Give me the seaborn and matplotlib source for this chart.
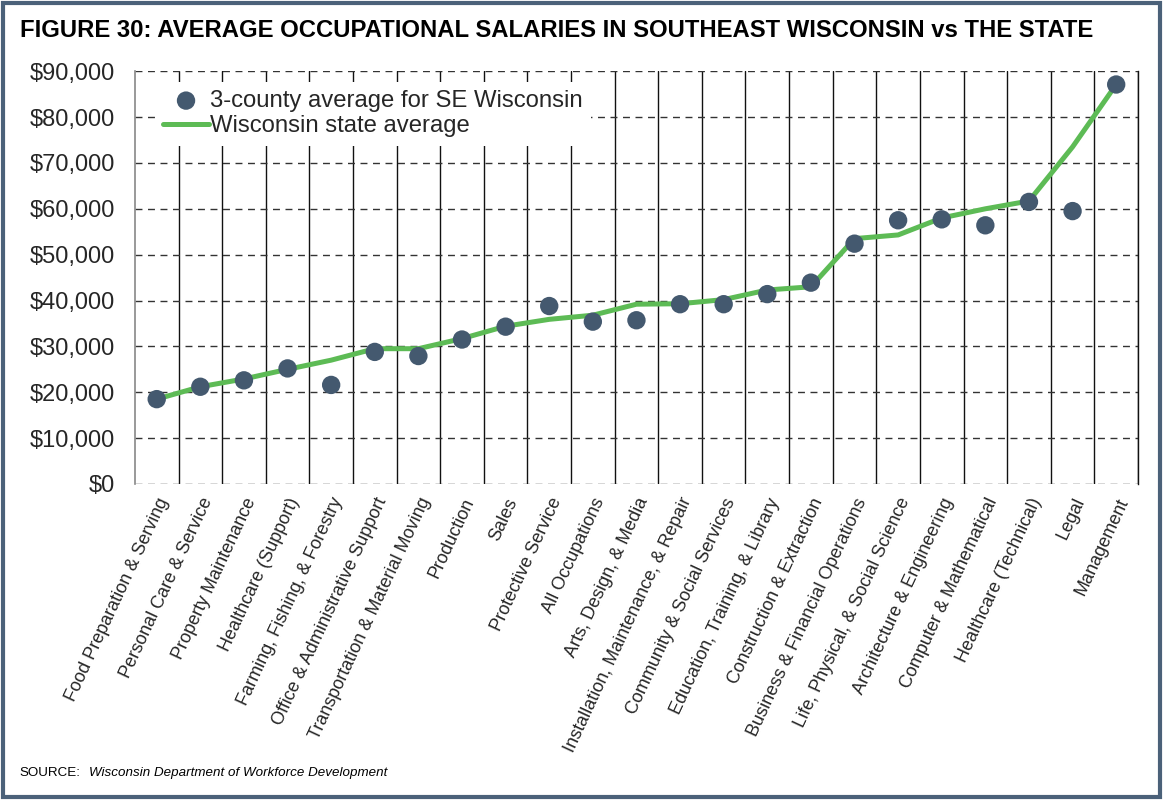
import matplotlib
matplotlib.use("Agg")
import matplotlib.pyplot as plt
from matplotlib.patches import Rectangle
from matplotlib.ticker import FuncFormatter, FixedLocator
import seaborn as sns
import pandas as pd
import numpy as np

occupations = [
    "Food Preparation & Serving", "Personal Care & Service", "Property Maintenance",
    "Healthcare (Support)", "Farming, Fishing, & Forestry", "Office & Administrative Support",
    "Transportation & Material Moving", "Production", "Sales", "Protective Service",
    "All Occupations", "Arts, Design, & Media", "Installation, Maintenance, & Repair",
    "Community & Social Services", "Education, Training, & Library",
    "Construction & Extraction", "Business & Financial Operations",
    "Life, Physical, & Social Science", "Architecture & Engineering",
    "Computer & Mathematical", "Healthcare (Technical)", "Legal", "Management",
]
se_wisconsin = [
    18500, 21200, 22600, 25200, 21600, 28800, 27900, 31500, 34300, 38800,
    35400, 35700, 39200, 39200, 41400, 43900, 52400, 57500, 57700, 56400,
    61500, 59500, 87100,
]
state_average = [
    18500, 21200, 22900, 25000, 27000, 29500, 29500, 31700, 34400, 35900,
    36800, 39200, 39300, 40200, 42300, 43000, 53500, 54300, 58000, 60000,
    61700, 73500, 87100,
]

df = pd.DataFrame({
    "pos": np.arange(len(occupations)),
    "occupation": occupations,
    "se": se_wisconsin,
    "state": state_average,
})

sns.set_theme(style="white")
plt.rcParams["font.family"] = ["Liberation Sans", "DejaVu Sans"]

fig = plt.figure(figsize=(11.63, 8.0), dpi=100)
ax = fig.add_axes([0.116, 0.395, 0.8625, 0.516])

line_color = "#5DBB55"
dot_color = "#44596F"

sns.lineplot(data=df, x="pos", y="state", ax=ax, color=line_color, lw=3.6,
             label="Wisconsin state average", zorder=3)
sns.scatterplot(data=df, x="pos", y="se", ax=ax, color=dot_color, s=175,
                edgecolor="none", label="3-county average for SE Wisconsin", zorder=4)

ax.set_xlim(-0.5, len(occupations) - 0.5)
ax.set_ylim(0, 90000)
ax.set_xlabel("")
ax.set_ylabel("")

# horizontal dashed gridlines
ax.set_yticks(np.arange(0, 90001, 10000))
ax.yaxis.set_major_formatter(FuncFormatter(lambda v, p: f"${int(v):,}"))
ax.yaxis.grid(True, linestyle=(0, (5, 4)), color="#333333", lw=1.0)

# category labels at the centres, solid separators at boundaries
ax.set_xticks(df["pos"])
ax.set_xticklabels(occupations, rotation=65, ha="right", rotation_mode="anchor",
                   fontsize=13)
ax.xaxis.set_minor_locator(FixedLocator(np.arange(0.5, len(occupations), 1.0)))
ax.xaxis.grid(True, which="minor", linestyle="-", color="#111111", lw=1.0)
ax.xaxis.grid(False, which="major")
ax.set_axisbelow(True)
ax.tick_params(axis="x", which="both", length=0, pad=8)
ax.tick_params(axis="y", length=0, labelsize=17, pad=14)

for side in ["top", "bottom"]:
    ax.spines[side].set_visible(False)
ax.spines["left"].set_color("#888888")
ax.spines["left"].set_linewidth(1.2)
ax.spines["right"].set_color("#111111")
ax.spines["right"].set_linewidth(1.0)

handles, labels = ax.get_legend_handles_labels()
order = [labels.index("3-county average for SE Wisconsin"), labels.index("Wisconsin state average")]
leg = ax.legend([handles[i] for i in order], [labels[i] for i in order],
                loc="upper left", bbox_to_anchor=(0.02, 0.975), frameon=True,
                fontsize=17.2, handlelength=1.9, handletextpad=0.05, labelspacing=0.15,
                borderpad=0.35, borderaxespad=0.0)
leg.get_frame().set_facecolor("white")
leg.get_frame().set_edgecolor("none")
leg.get_frame().set_alpha(1.0)

fig.text(0.017, 0.962, "FIGURE 30: AVERAGE OCCUPATIONAL SALARIES IN SOUTHEAST WISCONSIN vs THE STATE",
         fontsize=17.2, fontweight="bold", va="center", ha="left", color="black")
fig.text(0.017, 0.034, "SOURCE:", fontsize=9.6, va="center", ha="left", color="black")
fig.text(0.0765, 0.034, "Wisconsin Department of Workforce Development", fontsize=9.6,
         style="italic", va="center", ha="left", color="black")

fig.patches.append(Rectangle((0.003, 0.004), 0.994, 0.992, transform=fig.transFigure,
                             fill=False, edgecolor="#4B6179", lw=3.0))

fig.savefig("out.png", dpi=100)
